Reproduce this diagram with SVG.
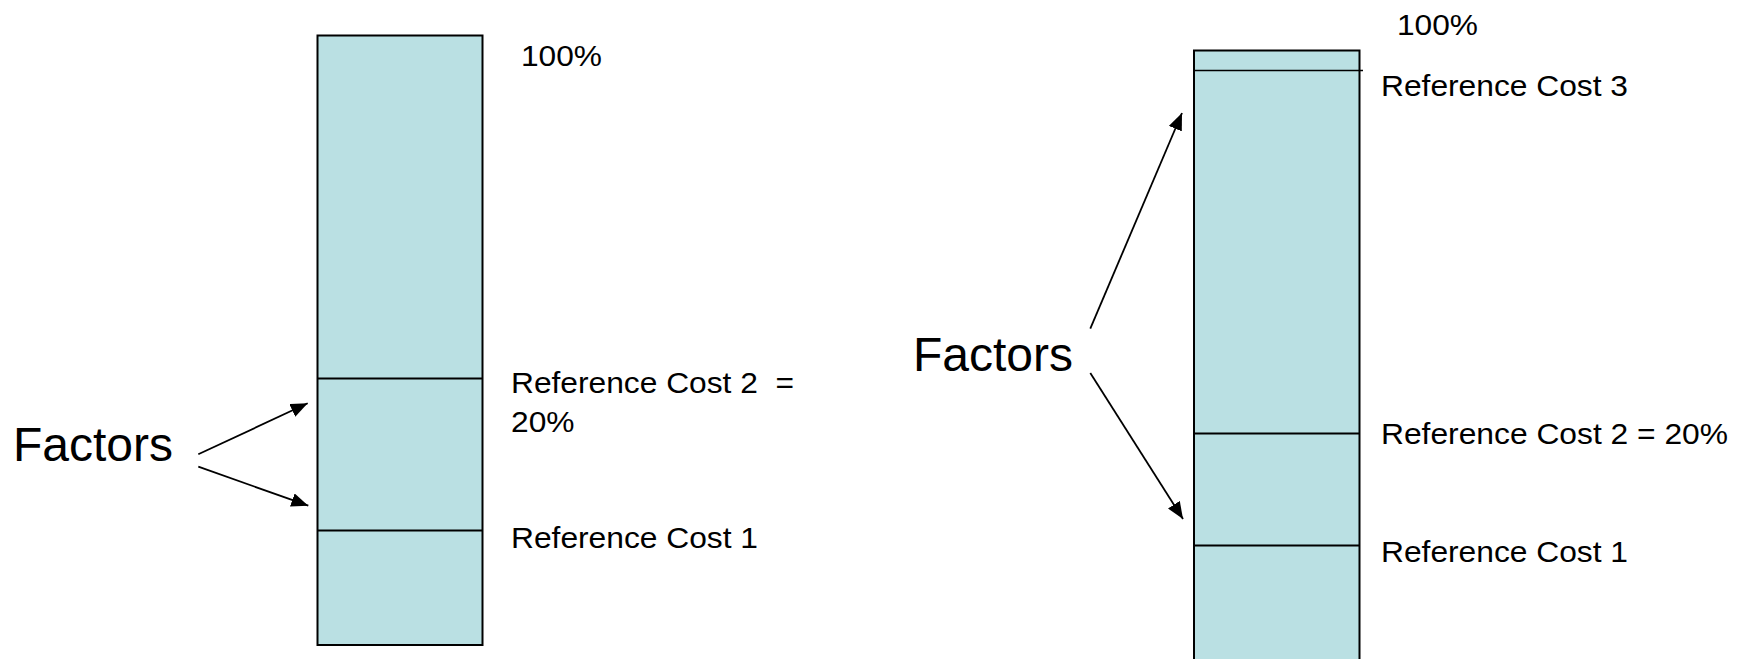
<svg xmlns="http://www.w3.org/2000/svg" width="1741" height="659" viewBox="0 0 1741 659">
<style>
.bar{fill:#bae0e3;stroke:#000;stroke-width:2}
.div{stroke:#000;stroke-width:1.8;fill:none}
.lbl{font-family:"Liberation Sans",Arial,sans-serif;font-size:29px;fill:#000}
.big{font-family:"Liberation Sans",Arial,sans-serif;font-size:48px;fill:#000}
.con{stroke:#000;stroke-width:1.8;fill:none;marker-end:url(#ah)}
</style>
<defs>
<marker id="ah" markerUnits="userSpaceOnUse" markerWidth="18" markerHeight="14" refX="17" refY="7" orient="auto">
<path d="M0,0 L17,7 L0,14 z" fill="#000"/>
</marker>
</defs>
<rect width="1741" height="659" fill="#fff"/>
<g id="bar-left">
<rect class="bar" x="317.5" y="35.5" width="165" height="609.5"/>
<line class="div" x1="317.5" y1="378.5" x2="482.5" y2="378.5"/>
<line class="div" x1="317.5" y1="530.5" x2="482.5" y2="530.5"/>
<text class="lbl" x="521" y="66" textLength="81" lengthAdjust="spacingAndGlyphs">100%</text>
<text class="lbl" x="511" y="393" textLength="283" lengthAdjust="spacingAndGlyphs" xml:space="preserve">Reference Cost 2  =</text>
<text class="lbl" x="511" y="432" textLength="63.5" lengthAdjust="spacingAndGlyphs">20%</text>
<text class="lbl" x="511" y="548" textLength="247" lengthAdjust="spacingAndGlyphs">Reference Cost 1</text>
</g>
<g id="factors-left">
<text class="big" x="13" y="461">Factors</text>
</g>
<g id="bar-right">
<rect class="bar" x="1194" y="50.5" width="165.5" height="620"/>
<line class="div" x1="1195" y1="70.5" x2="1363" y2="70.5" style="stroke-width:1.4"/>
<line class="div" x1="1194" y1="433.5" x2="1359.5" y2="433.5"/>
<line class="div" x1="1194" y1="545.5" x2="1359.5" y2="545.5"/>
<text class="lbl" x="1397" y="35" textLength="81" lengthAdjust="spacingAndGlyphs">100%</text>
<text class="lbl" x="1381" y="96" textLength="247" lengthAdjust="spacingAndGlyphs">Reference Cost 3</text>
<text class="lbl" x="1381" y="444" textLength="347" lengthAdjust="spacingAndGlyphs">Reference Cost 2 = 20%</text>
<text class="lbl" x="1381" y="562" textLength="247" lengthAdjust="spacingAndGlyphs">Reference Cost 1</text>
</g>
<g id="factors-right">
<text class="big" x="913" y="371">Factors</text>
</g>
<g id="connectors">
<line class="con" x1="198.3" y1="454.3" x2="307.7" y2="403.3"/>
<line class="con" x1="198.3" y1="466.7" x2="308.3" y2="505.7"/>
<line class="con" x1="1090.3" y1="328.6" x2="1182" y2="113"/>
<line class="con" x1="1090.3" y1="373" x2="1183" y2="519"/>
</g>
</svg>
